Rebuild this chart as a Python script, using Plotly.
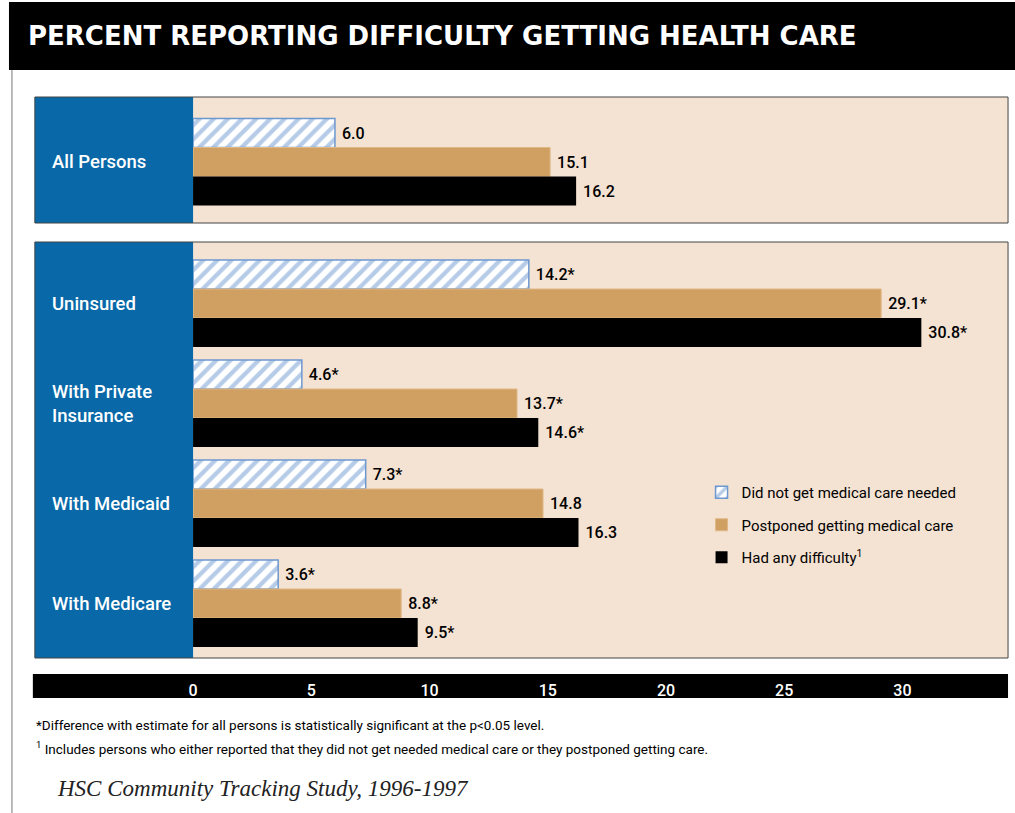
import plotly.graph_objects as go

W, H = 1015, 813

# ---------------- data ----------------
top_categories = ["All Persons"]
bottom_categories = ["Uninsured", "With Private Insurance", "With Medicaid", "With Medicare"]
category_display = {
    "All Persons": "All Persons",
    "Uninsured": "Uninsured",
    "With Private Insurance": "With Private<br>Insurance",
    "With Medicaid": "With Medicaid",
    "With Medicare": "With Medicare",
}

series_names = ["Did not get medical care needed", "Postponed getting medical care", "Had any difficulty<sup>1</sup>"]

did_not_get_top = [6.0]
postponed_top = [15.1]
any_difficulty_top = [16.2]

did_not_get_bottom = [14.2, 4.6, 7.3, 3.6]
postponed_bottom = [29.1, 13.7, 14.8, 8.8]
any_difficulty_bottom = [30.8, 14.6, 16.3, 9.5]

# significance flags (*) for bottom groups
did_not_get_sig = [True, True, True, True]
postponed_sig = [True, True, False, True]
any_difficulty_sig = [True, True, False, True]

x_ticks = [0, 5, 10, 15, 20, 25, 30]

footnote1 = "*Difference with estimate for all persons is statistically significant at the p<0.05 level."
footnote2 = "<sup>1</sup> Includes persons who either reported that they did not get needed medical care or they postponed getting care."
source_text = "HSC Community Tracking Study, 1996-1997"
title_text = "PERCENT REPORTING DIFFICULTY GETTING HEALTH CARE"

# ---------------- styling ----------------
BLUE = "#0868a8"
BEIGE = "#f4e2d2"
TAN = "#d09f62"
HATCH = "#6c98cf"
COND = "Roboto, Lato, Liberation Sans, sans-serif"


def px_x(p):
    return p / W


def px_y(p):
    return 1 - p / H


def labels(vals, flags=None):
    out = []
    for i, v in enumerate(vals):
        s = "\u00a0" + f"{v:.1f}"
        if flags is not None and flags[i]:
            s += "*"
        out.append(s)
    return out


fig = go.Figure()

styles = [
    dict(color="white", line=dict(color=HATCH, width=1.5),
         pattern=dict(shape="/", fgcolor=HATCH, bgcolor="white", size=10, solidity=0.42)),
    dict(color=TAN, line=dict(color="#e0b888", width=1)),
    dict(color="black", line=dict(color="black", width=0)),
]

top_vals = [did_not_get_top, postponed_top, any_difficulty_top]
bot_vals = [did_not_get_bottom, postponed_bottom, any_difficulty_bottom]
bot_flags = [did_not_get_sig, postponed_sig, any_difficulty_sig]

LABEL_FONT = dict(family=COND, size=16, color="black", weight=500)

for i in range(3):
    fig.add_trace(go.Bar(
        x=top_vals[i], y=top_categories, orientation="h", name=series_names[i],
        marker=styles[i], text=labels(top_vals[i]), textposition="outside",
        cliponaxis=False, xaxis="x", yaxis="y", showlegend=False,
        textfont=LABEL_FONT, legendgroup=f"g{i}",
    ))
    fig.add_trace(go.Bar(
        x=bot_vals[i], y=bottom_categories, orientation="h", name=series_names[i],
        marker=styles[i], text=labels(bot_vals[i], bot_flags[i]), textposition="outside",
        cliponaxis=False, xaxis="x2", yaxis="y2", showlegend=True,
        textfont=LABEL_FONT, legendgroup=f"g{i}",
    ))

xdom = [px_x(189), px_x(1008)]
xrange = [0, (1008 - 190) / ((902 - 190) / 30)]

fig.update_layout(
    width=W, height=H,
    margin=dict(l=0, r=0, t=0, b=0),
    paper_bgcolor="white",
    plot_bgcolor=BEIGE,
    barmode="group", bargap=0.13, bargroupgap=0,
    xaxis=dict(domain=xdom, range=xrange, anchor="y", showticklabels=False,
               showgrid=False, zeroline=False, ticks=""),
    yaxis=dict(domain=[px_y(223), px_y(97)], type="category", range=[0.61, -0.65],
               anchor="x", showticklabels=False, showgrid=False, zeroline=False, ticks=""),
    xaxis2=dict(domain=xdom, range=xrange, anchor="y2", matches="x",
                tickvals=x_ticks, ticktext=[str(t) for t in x_ticks],
                showgrid=False, zeroline=False, ticks="", ticklabelstandoff=21,
                tickfont=dict(family=COND, size=16, color="white", weight=500)),
    yaxis2=dict(domain=[px_y(658), px_y(242)], type="category", range=[3.545, -0.615],
                anchor="x2", showticklabels=False, showgrid=False, zeroline=False, ticks=""),
    legend=dict(x=px_x(700), y=px_y(476), xanchor="left", yanchor="top",
                bgcolor="rgba(0,0,0,0)", tracegroupgap=10,
                font=dict(family=COND, size=15, color="black")),
    font=dict(family=COND),
)

shapes = [
    # title bar
    dict(type="rect", xref="paper", yref="paper", x0=px_x(4), x1=1, y0=px_y(70), y1=px_y(2),
         fillcolor="black", line=dict(width=0), layer="below"),
    # left page rule
    dict(type="line", xref="paper", yref="paper", x0=px_x(7), x1=px_x(7), y0=0, y1=px_y(70),
         line=dict(color="#777", width=1)),
    # blue label boxes
    dict(type="rect", xref="paper", yref="paper", x0=px_x(30), x1=px_x(189), y0=px_y(223), y1=px_y(97),
         fillcolor=BLUE, line=dict(width=0), layer="below"),
    dict(type="rect", xref="paper", yref="paper", x0=px_x(30), x1=px_x(189), y0=px_y(658), y1=px_y(242),
         fillcolor=BLUE, line=dict(width=0), layer="below"),
    # panel borders
    dict(type="rect", xref="paper", yref="paper", x0=px_x(30), x1=px_x(1008), y0=px_y(223), y1=px_y(97),
         fillcolor="rgba(0,0,0,0)", line=dict(color="#444", width=1), layer="above"),
    dict(type="rect", xref="paper", yref="paper", x0=px_x(30), x1=px_x(1008), y0=px_y(658), y1=px_y(242),
         fillcolor="rgba(0,0,0,0)", line=dict(color="#444", width=1), layer="above"),
    # axis bar
    dict(type="rect", xref="paper", yref="paper", x0=px_x(28), x1=px_x(1008), y0=px_y(698), y1=px_y(674),
         fillcolor="black", line=dict(width=0), layer="below"),
]
fig.update_layout(shapes=shapes)

annotations = [
    dict(text=title_text, xref="paper", yref="paper", x=px_x(21), y=px_y(36),
         xanchor="left", yanchor="middle", showarrow=False,
         font=dict(family="DejaVu Sans, Verdana, sans-serif", size=26, color="white", weight="bold")),
    dict(text=footnote1, xref="paper", yref="paper", x=px_x(29), y=px_y(725),
         xanchor="left", yanchor="middle", showarrow=False,
         font=dict(family=COND, size=13.5, color="black")),
    dict(text=footnote2, xref="paper", yref="paper", x=px_x(29), y=px_y(748),
         xanchor="left", yanchor="middle", showarrow=False,
         font=dict(family=COND, size=13.5, color="black")),
    dict(text=source_text, xref="paper", yref="paper", x=px_x(50), y=px_y(788),
         xanchor="left", yanchor="middle", showarrow=False,
         font=dict(family="Liberation Serif, Times New Roman, serif", size=23, color="#222", style="italic")),
]

for c in top_categories:
    annotations.append(dict(text=category_display[c], xref="paper", yref="y", x=px_x(45), y=c,
                            xanchor="left", yanchor="middle", align="left", showarrow=False,
                            font=dict(family=COND, size=18.5, color="white", weight=500)))
for c in bottom_categories:
    annotations.append(dict(text=category_display[c], xref="paper", yref="y2", x=px_x(45), y=c,
                            xanchor="left", yanchor="middle", align="left", showarrow=False,
                            font=dict(family=COND, size=18.5, color="white", weight=500)))

fig.update_layout(annotations=annotations)

fig.write_html("out.html", config={"displayModeBar": False},
               post_script="document.body.style.margin='0px';")
